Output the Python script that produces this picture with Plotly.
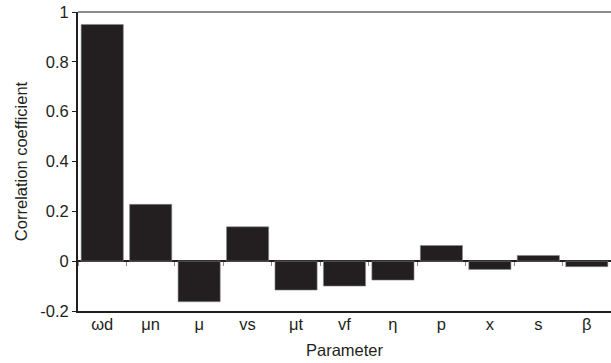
import plotly.graph_objects as go

params = ["ωd", "μn", "μ", "vs", "μt", "vf", "η", "p", "x", "s", "β"]
corr = [0.95, 0.228, -0.163, 0.138, -0.116, -0.10, -0.076, 0.063, -0.033, 0.023, -0.022]
y_ticks = [-0.2, 0, 0.2, 0.4, 0.6, 0.8, 1]
y_tick_text = ["-0.2", "0", "0.2", "0.4", "0.6", "0.8", "1"]

FONT = "Liberation Sans, Arial, sans-serif"
n = len(params)
bounds = [i - 0.5 for i in range(n + 1)]

fig = go.Figure()
fig.add_trace(go.Bar(
    x=params, y=corr, width=0.87,
    marker=dict(color="#231f20", line=dict(color="#8a8a8a", width=0.6)),
    showlegend=False, hoverinfo="x+y",
))
# helper trace so the zero-line tick axis is rendered
fig.add_trace(go.Scatter(
    x=[bounds[0], bounds[-1]], y=[0, 0], xaxis="x2", mode="lines",
    line=dict(width=0), showlegend=False, hoverinfo="skip",
))

fig.update_layout(
    width=611, height=363,
    margin=dict(l=78, r=0, t=12, b=52),
    paper_bgcolor="white", plot_bgcolor="white",
    font=dict(family=FONT, size=16, color="#231f20"),
    xaxis=dict(
        type="category", range=[-0.5, n - 0.5], automargin=True,
        showline=True, linecolor="#231f20", linewidth=2,
        ticks="", showgrid=False, zeroline=False,
        tickfont=dict(size=16.5), ticklabelstandoff=-3,
        title=dict(text="Parameter", font=dict(size=16.5), standoff=13),
    ),
    xaxis2=dict(
        overlaying="x", anchor="free", position=0.2 / 1.2,
        type="linear", range=[-0.5, n - 0.5], automargin=False,
        tickmode="array", tickvals=bounds,
        ticks="outside", ticklen=4, tickcolor="#8a8a8a", tickwidth=1,
        showticklabels=False, showline=False, showgrid=False, zeroline=False,
    ),
    yaxis=dict(
        range=[-0.2, 1.0], automargin=True,
        tickmode="array", tickvals=y_ticks, ticktext=y_tick_text,
        ticks="outside", ticklen=4, tickcolor="#231f20", tickwidth=1,
        showline=True, linecolor="#231f20", linewidth=2,
        showgrid=False, zeroline=True, zerolinecolor="#231f20", zerolinewidth=2,
        tickfont=dict(size=16.5),
        title=dict(text="Correlation coefficient", font=dict(size=16.5), standoff=8),
    ),
    shapes=[dict(type="line", xref="paper", yref="paper", x0=0, x1=1, y0=1, y1=1,
                 line=dict(color="#8c8c8c", width=2))],
)

fig.write_html(
    "out.html",
    config={"displayModeBar": False},
    post_script="document.body.style.margin='0';document.body.style.overflow='hidden';",
)
